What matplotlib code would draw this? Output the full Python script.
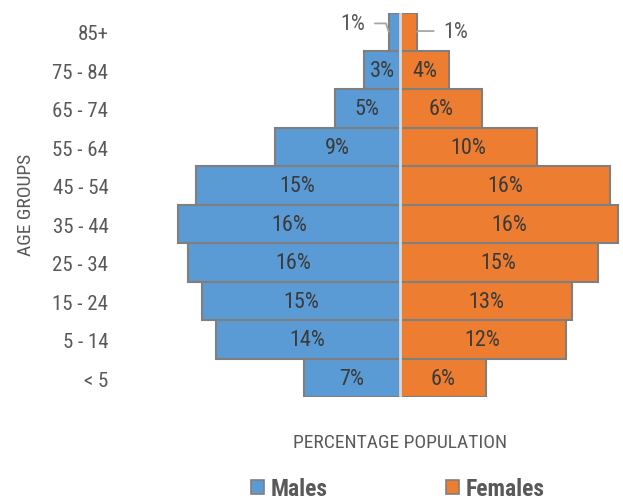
import matplotlib
matplotlib.use("Agg")
import matplotlib.pyplot as plt
from matplotlib.patches import Patch

# population share per age group, bottom (<5) to top (85+)
age_groups = ["< 5", "5 - 14", "15 - 24", "25 - 34", "35 - 44",
              "45 - 54", "55 - 64", "65 - 74", "75 - 84", "85+"]
males = [7.05, 13.6, 14.6, 15.7, 16.4, 15.1, 9.2, 4.8, 2.6, 0.8]
females = [6.4, 12.3, 12.8, 14.7, 16.2, 15.6, 10.2, 6.1, 3.7, 1.3]

BLUE = "#5B9BD5"
ORANGE = "#ED7D31"
EDGE = "#7F7F7F"
TXT = "#595959"
DARK = "#3A3A3A"
FONT = ["Roboto Condensed", "DejaVu Sans"]

plt.rcParams["font.family"] = FONT

W, H = 623, 502
fig = plt.figure(figsize=(W / 100, H / 100), dpi=100)

# layout in pixels
px_left, px_right = 118, 620
px_top, px_bottom = 13.5, 398.3
px_center, px_per_pct = 399.5, 13.5
ax = fig.add_axes([px_left / W, 1 - px_bottom / H,
                   (px_right - px_left) / W, (px_bottom - px_top) / H])

ypos = range(len(age_groups))
mbars = ax.barh(ypos, [-v for v in males], height=1.0, color=BLUE,
                edgecolor=EDGE, linewidth=1.5)
fbars = ax.barh(ypos, females, height=1.0, color=ORANGE,
                edgecolor=EDGE, linewidth=1.5)

ax.set_xlim(-(px_center - px_left) / px_per_pct,
            (px_right - px_center) / px_per_pct)
ax.set_ylim(-0.5, len(age_groups) - 0.5)
ax.axvline(0, color="#D9D9D9", lw=2, zorder=3)

# inside labels (top row is labelled outside with leader lines)
mlabels = [f"{v:.0f}%" for v in males[:-1]] + [""]
flabels = [f"{v:.0f}%" for v in females[:-1]] + [""]
ax.bar_label(mbars, labels=mlabels, label_type="center", fontsize=16,
             color=DARK)
ax.bar_label(fbars, labels=flabels, label_type="center", fontsize=16,
             color=DARK)

top = len(age_groups) - 1
ax.annotate(f"{males[top]:.0f}%", xy=(-males[top], top), xytext=(-17, 6),
            textcoords="offset points", ha="right", va="center",
            fontsize=16, color=TXT, annotation_clip=False,
            arrowprops=dict(arrowstyle="-", color="#A6A6A6", lw=1.3,
                            relpos=(1, 0.5), shrinkA=5, shrinkB=0,
                            connectionstyle="angle,angleA=0,angleB=108,rad=0"))
ax.annotate(f"{females[top]:.0f}%", xy=(females[top], top), xytext=(19, 0.5),
            textcoords="offset points", ha="left", va="center",
            fontsize=16, color=TXT, annotation_clip=False,
            arrowprops=dict(arrowstyle="-", color="#A6A6A6", lw=1.3,
                            relpos=(0, 0.5), shrinkA=5, shrinkB=0,
                            connectionstyle="angle,angleA=0,angleB=25,rad=0"))

ax.set_yticks(list(ypos))
ax.set_yticklabels(age_groups, fontsize=15, color=TXT)
ax.tick_params(axis="y", length=0, pad=7)
ax.set_xticks([])
for s in ax.spines.values():
    s.set_visible(False)

fig.text(26 / W, 1 - 205 / H, "AGE GROUPS", rotation=90, ha="center",
         va="center", fontsize=14, color=TXT)
fig.text(400 / W, 1 - 443 / H, "PERCENTAGE POPULATION", ha="center",
         va="center", fontsize=14, color=TXT)

handles = [Patch(facecolor=BLUE, edgecolor=EDGE, lw=1.2, label="Males"),
           Patch(facecolor=ORANGE, edgecolor=EDGE, lw=1.2, label="Females")]
fig.legend(handles=handles, loc="center", bbox_to_anchor=(398 / W, 1 - 490 / H),
           ncol=2, frameon=False, handlelength=0.55, handleheight=0.55,
           handletextpad=0.3, columnspacing=5.0, borderpad=0,
           prop={"size": 17, "weight": "bold", "family": FONT},
           labelcolor=TXT)

fig.savefig("out.png", dpi=100)
